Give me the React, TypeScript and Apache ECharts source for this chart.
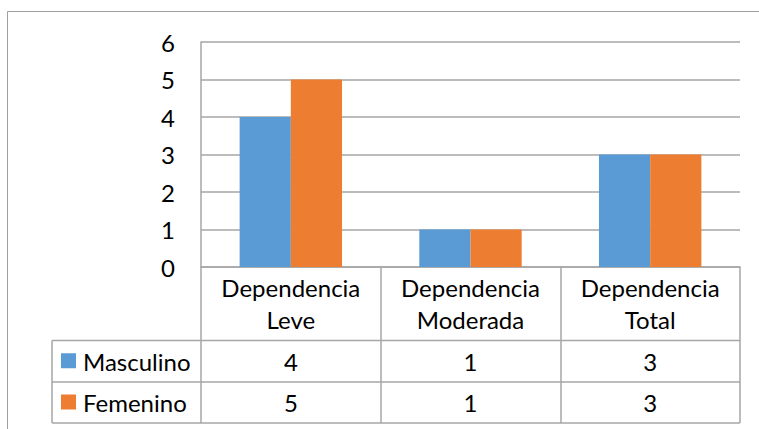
import React, { useEffect, useRef } from "react";
import * as echarts from "echarts";

// Chart data
const categories = ["Dependencia\nLeve", "Dependencia\nModerada", "Dependencia\nTotal"];
const seriesNames = ["Masculino", "Femenino"];
const masculino = [4, 1, 3];
const femenino = [5, 1, 3];
const seriesColors = ["#5B9BD5", "#ED7D31"];
const yMin = 0;
const yMax = 6;
const yInterval = 1;

// Layout
const W = 759;
const H = 429;
const GRID_LEFT = 201;
const GRID_TOP = 42;
const GRID_RIGHT_X = 740;
const GRID_BOTTOM_Y = 267;
const ROW_LINES = [340.5, 382, 423];
const TABLE_LEFT = 52;
const FONT = "Lato, 'Noto Sans', sans-serif";
const LINE_COLOR = "#A6A6A6";

export default function App() {
  const ref = useRef<HTMLDivElement>(null);

  useEffect(() => {
    if (!ref.current) return;
    const chart = echarts.init(ref.current, undefined, { renderer: "svg" });

    const values = [masculino, femenino];
    const colW = (GRID_RIGHT_X - GRID_LEFT) / categories.length;
    const graphics: any[] = [];

    // outer chart border (runs off the right and bottom edges)
    graphics.push({
      type: "rect",
      shape: { x: 7.5, y: 11.5, width: 900, height: 600 },
      style: { fill: "none", stroke: "#A0A0A0", lineWidth: 1 },
      silent: true,
    });

    // data table horizontal rules
    ROW_LINES.forEach((y) => {
      graphics.push({
        type: "line",
        shape: { x1: TABLE_LEFT, y1: y, x2: GRID_RIGHT_X, y2: y },
        style: { stroke: LINE_COLOR, lineWidth: 1.5 },
        silent: true,
      });
    });
    // legend column left rule
    graphics.push({
      type: "line",
      shape: { x1: TABLE_LEFT, y1: ROW_LINES[0], x2: TABLE_LEFT, y2: ROW_LINES[2] },
      style: { stroke: LINE_COLOR, lineWidth: 1.5 },
      silent: true,
    });

    values.forEach((vals, r) => {
      const top = ROW_LINES[r];
      const bottom = ROW_LINES[r + 1];
      const mid = (top + bottom) / 2;
      // legend key
      graphics.push({
        type: "rect",
        shape: { x: 61, y: mid - 8, width: 15, height: 15 },
        style: { fill: seriesColors[r] },
        silent: true,
      });
      graphics.push({
        type: "text",
        x: 83,
        y: mid,
        style: {
          text: seriesNames[r],
          font: `24px ${FONT}`,
          fill: "#000",
          textAlign: "left",
          textVerticalAlign: "middle",
        },
        silent: true,
      });
      vals.forEach((v, c) => {
        graphics.push({
          type: "text",
          x: GRID_LEFT + (c + 0.5) * colW,
          y: mid,
          style: {
            text: String(v),
            font: `24px ${FONT}`,
            fill: "#000",
            textAlign: "center",
            textVerticalAlign: "middle",
          },
          silent: true,
        });
      });
    });

    chart.setOption({
      animation: false,
      backgroundColor: "#fff",
      grid: {
        left: GRID_LEFT,
        top: GRID_TOP,
        width: GRID_RIGHT_X - GRID_LEFT,
        height: GRID_BOTTOM_Y - GRID_TOP,
        containLabel: false,
      },
      xAxis: {
        type: "category",
        data: categories,
        axisLine: { show: true, lineStyle: { color: LINE_COLOR, width: 1.5 } },
        axisTick: {
          show: true,
          interval: 0,
          length: ROW_LINES[2] - GRID_BOTTOM_Y,
          lineStyle: { color: LINE_COLOR, width: 1.5 },
        },
        axisLabel: {
          interval: 0,
          hideOverlap: false,
          margin: 4,
          fontFamily: FONT,
          fontSize: 24,
          lineHeight: 32,
          color: "#000",
          align: "center",
        },
      },
      yAxis: {
        type: "value",
        min: yMin,
        max: yMax,
        interval: yInterval,
        axisLine: { show: true, lineStyle: { color: LINE_COLOR, width: 1.5 } },
        axisTick: { show: false },
        splitLine: { lineStyle: { color: LINE_COLOR, width: 1.5 } },
        axisLabel: {
          margin: 26,
          fontFamily: FONT,
          fontSize: 24,
          color: "#000",
        },
      },
      series: seriesNames.map((name, i) => ({
        name,
        type: "bar",
        data: values[i],
        barGap: "0%",
        barCategoryGap: "43%",
        itemStyle: { color: seriesColors[i] },
      })),
      graphic: graphics,
    });

    return () => chart.dispose();
  }, []);

  return (
    <div
      ref={ref}
      style={{ position: "fixed", left: 0, top: 0, width: W, height: H, background: "#fff" }}
    />
  );
}
